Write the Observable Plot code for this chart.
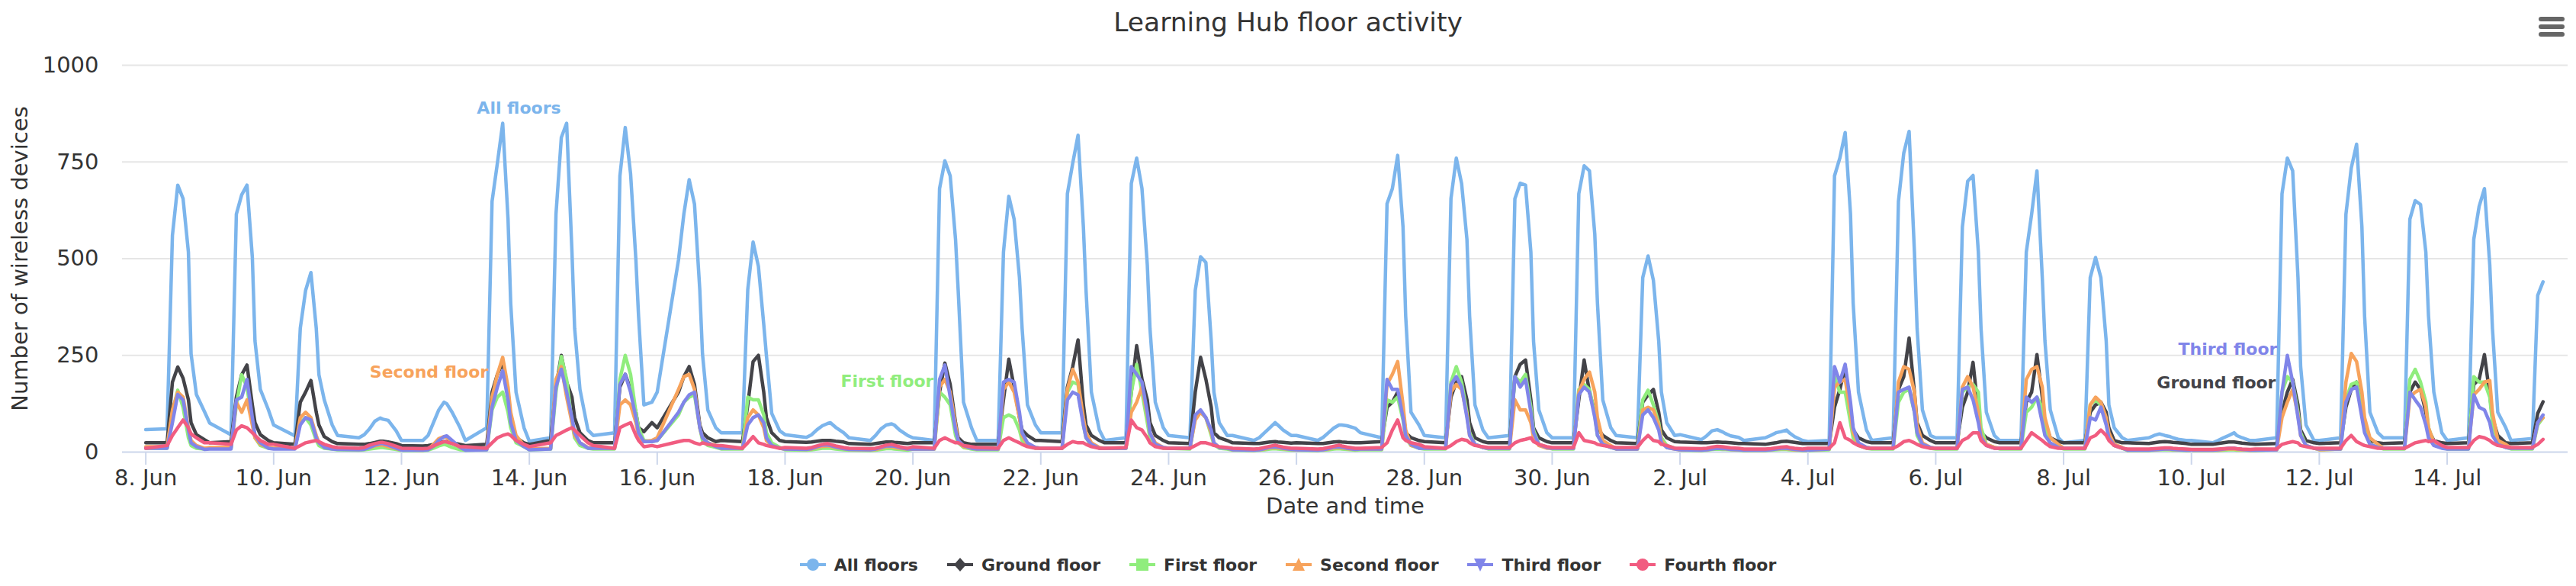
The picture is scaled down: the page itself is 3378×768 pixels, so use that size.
<!DOCTYPE html>
<html>
<head>
<meta charset="utf-8">
<script src="https://cdn.jsdelivr.net/npm/d3@7"></script>
<script src="https://cdn.jsdelivr.net/npm/@observablehq/plot@0.6"></script>
<style>
  html, body { margin: 0; padding: 0; background: #ffffff; }
  body { width: 3378px; height: 768px; overflow: hidden; font-family: "DejaVu Sans", sans-serif; position: relative; }
  #title { height: 58px; line-height: 58px; text-align: center; font-size: 34.5px; color: #333333; position: relative; }
  #menu { position: absolute; left: 3329px; top: 22px; width: 34px; }
  #menu div { height: 6px; border-radius: 3px; background: #666666; margin-bottom: 4px; }
  #legend { height: 56px; display: flex; justify-content: center; align-items: center; gap: 38px; }
  .item { display: flex; align-items: center; font-weight: bold; font-size: 22px; color: #333333; }
  .item svg { margin-right: 11px; }
</style>
</head>
<body>
<div id="title">Learning Hub floor activity<div id="menu"><div></div><div></div><div></div></div></div>
<div id="chart"></div>
<div id="legend"></div>
<script>
// ---- time grid: each day is sampled at these hours, starting 8 Jun ----
const firstDay = "2018-06-08";
const hoursOfDay = [0, 8, 10, 12, 14, 16, 17, 19, 22];

// ---- series values (one row per day: 0h, 8h, 10h, 12h, 14h, 16h, 17h, 19h, 22h) ----
const allFloors = [
  58, 60, 560, 690, 655, 517, 254, 149, 105,   // 8 Jun
  75, 45, 615, 665, 690, 504, 287, 162, 110,   // 9 Jun
  70, 42, 320, 418, 464, 320, 200, 135, 70,    // 10 Jun
  43, 37, 45, 60, 80, 88, 85, 82, 55,          // 11 Jun
  30, 30, 43, 76, 109, 129, 125, 103, 63,      // 12 Jun
  30, 63, 648, 747, 850, 602, 385, 155, 63,    // 13 Jun
  28, 37, 615, 813, 850, 517, 320, 162, 57,    // 14 Jun
  43, 50, 714, 839, 720, 497, 352, 122, 129,   // 15 Jun
  155, 497, 615, 704, 641, 418, 254, 109, 63,  // 16 Jun
  50, 50, 420, 543, 480, 330, 250, 100, 55,    // 17 Jun
  45, 38, 45, 58, 68, 74, 76, 64, 50,          // 18 Jun
  37, 30, 43, 60, 70, 73, 70, 57, 43,          // 19 Jun
  37, 30, 681, 753, 714, 550, 418, 129, 63,    // 20 Jun
  30, 30, 517, 661, 602, 451, 320, 122, 70,    // 21 Jun
  50, 50, 668, 747, 819, 582, 418, 155, 57,    // 22 Jun
  30, 37, 694, 760, 681, 484, 320, 129, 63,    // 23 Jun
  43, 37, 418, 505, 490, 287, 155, 76, 43,     // 24 Jun
  43, 30, 37, 50, 63, 76, 70, 57, 43,          // 25 Jun
  43, 30, 38, 50, 62, 70, 70, 68, 62,          // 26 Jun
  50, 37, 642, 681, 767, 582, 352, 103, 70,    // 27 Jun
  43, 37, 655, 760, 694, 550, 352, 122, 57,    // 28 Jun
  37, 43, 655, 695, 690, 517, 287, 109, 50,    // 29 Jun
  37, 37, 668, 740, 727, 563, 385, 135, 63,    // 30 Jun
  43, 37, 451, 507, 444, 287, 155, 76, 43,     // 1 Jul
  45, 32, 42, 55, 58, 52, 48, 42, 38,          // 2 Jul
  30, 37, 43, 50, 53, 57, 50, 40, 30,          // 3 Jul
  27, 30, 714, 760, 826, 615, 385, 155, 57,    // 4 Jul
  30, 37, 648, 773, 829, 517, 320, 109, 43,    // 5 Jul
  37, 37, 582, 700, 715, 517, 320, 103, 43,    // 6 Jul
  30, 30, 517, 615, 727, 451, 287, 109, 37,    // 7 Jul
  24, 30, 451, 503, 451, 287, 122, 63, 37,     // 8 Jul
  30, 37, 43, 47, 43, 40, 37, 33, 30,          // 9 Jul
  30, 24, 30, 37, 43, 50, 43, 37, 30,          // 10 Jul
  30, 37, 668, 760, 727, 451, 221, 70, 30,     // 11 Jul
  30, 37, 615, 734, 796, 582, 352, 103, 50,    // 12 Jul
  37, 37, 602, 650, 640, 517, 352, 155, 50,    // 13 Jul
  30, 37, 550, 635, 681, 484, 320, 103, 63,    // 14 Jul
  30, 35, 405, 440                             // 15 Jul
];
const groundFloor = [
  24, 24, 181, 220, 191, 135, 76, 45, 32,
  24, 27, 142, 200, 225, 122, 76, 45, 30,
  24, 20, 129, 155, 185, 103, 70, 40, 27,
  22, 20, 20, 22, 25, 28, 28, 26, 22,
  17, 16, 17, 20, 24, 27, 27, 24, 20,
  17, 20, 155, 201, 232, 155, 89, 37, 24,
  20, 30, 168, 250, 181, 142, 89, 50, 30,
  24, 24, 168, 201, 162, 103, 63, 53, 76,
  63, 155, 195, 221, 175, 70, 50, 37, 27,
  30, 27, 122, 234, 250, 155, 89, 50, 30,
  27, 25, 26, 28, 30, 30, 30, 28, 26,
  22, 20, 22, 24, 26, 26, 25, 24, 22,
  24, 24, 155, 230, 175, 76, 37, 24, 20,
  20, 20, 135, 240, 168, 89, 57, 43, 30,
  30, 27, 168, 221, 290, 122, 70, 43, 30,
  24, 24, 155, 275, 188, 135, 76, 43, 30,
  24, 22, 155, 245, 188, 116, 50, 37, 30,
  24, 22, 22, 24, 26, 27, 26, 25, 23,
  24, 22, 22, 24, 26, 27, 26, 25, 24,
  24, 27, 116, 129, 155, 103, 50, 37, 30,
  27, 24, 142, 181, 195, 135, 76, 37, 27,
  24, 24, 195, 227, 238, 135, 63, 37, 27,
  24, 24, 135, 238, 155, 103, 63, 43, 30,
  24, 22, 129, 148, 162, 103, 57, 37, 27,
  26, 24, 24, 25, 26, 25, 25, 24, 22,
  22, 20, 22, 24, 27, 28, 27, 25, 22,
  22, 22, 116, 162, 221, 103, 57, 37, 27,
  24, 24, 162, 195, 295, 155, 76, 43, 30,
  24, 24, 116, 155, 232, 103, 50, 37, 27,
  24, 24, 129, 155, 252, 142, 76, 37, 27,
  24, 24, 103, 122, 129, 103, 63, 30, 24,
  24, 22, 24, 26, 27, 26, 25, 24, 22,
  20, 20, 22, 24, 26, 26, 25, 23, 21,
  20, 22, 103, 155, 188, 122, 57, 30, 24,
  22, 24, 116, 162, 181, 129, 63, 30, 24,
  22, 24, 155, 181, 162, 103, 57, 30, 24,
  22, 24, 175, 188, 252, 148, 89, 43, 24,
  22, 24, 100, 130
];
const firstFloor = [
  10, 10, 103, 160, 115, 37, 17, 10, 8,
  10, 10, 122, 200, 168, 76, 37, 17, 10,
  10, 10, 76, 89, 70, 30, 17, 10, 8,
  6, 5, 6, 8, 10, 12, 12, 10, 7,
  4, 4, 5, 10, 16, 20, 18, 12, 6,
  5, 6, 109, 142, 155, 103, 63, 24, 14,
  6, 8, 155, 247, 188, 76, 37, 17, 10,
  8, 8, 188, 250, 201, 103, 63, 30, 27,
  30, 96, 129, 142, 148, 63, 30, 17, 12,
  8, 8, 142, 135, 135, 96, 50, 24, 12,
  6, 5, 6, 8, 10, 10, 10, 8, 6,
  5, 4, 5, 7, 9, 9, 8, 7, 5,
  8, 8, 155, 142, 122, 43, 24, 12, 8,
  6, 6, 89, 96, 89, 57, 30, 17, 10,
  10, 10, 155, 181, 175, 70, 37, 17, 10,
  10, 10, 155, 227, 155, 76, 37, 17, 10,
  10, 8, 89, 103, 89, 43, 20, 10, 8,
  5, 4, 5, 6, 8, 9, 8, 7, 5,
  5, 4, 5, 6, 8, 9, 8, 7, 5,
  6, 6, 135, 129, 142, 83, 37, 17, 10,
  8, 8, 181, 221, 181, 103, 50, 20, 12,
  8, 8, 195, 181, 201, 116, 57, 20, 12,
  8, 8, 162, 175, 162, 96, 43, 20, 12,
  8, 8, 135, 160, 122, 76, 37, 17, 10,
  5, 4, 5, 7, 8, 7, 7, 6, 5,
  4, 4, 5, 6, 7, 7, 6, 5, 4,
  4, 6, 195, 155, 155, 76, 37, 17, 10,
  8, 8, 129, 155, 162, 103, 43, 17, 10,
  8, 8, 155, 168, 175, 155, 63, 20, 12,
  8, 8, 103, 116, 142, 116, 63, 20, 12,
  8, 8, 122, 135, 122, 76, 37, 17, 10,
  4, 4, 5, 6, 6, 6, 5, 5, 4,
  4, 4, 4, 5, 6, 6, 5, 5, 4,
  4, 6, 155, 195, 181, 103, 50, 17, 10,
  6, 8, 135, 175, 181, 116, 57, 20, 12,
  8, 8, 188, 214, 181, 129, 63, 24, 12,
  8, 8, 195, 181, 181, 142, 76, 24, 12,
  8, 8, 70, 89
];
const secondFloor = [
  14, 14, 109, 155, 142, 63, 30, 17, 10,
  12, 12, 129, 103, 135, 70, 37, 20, 12,
  10, 10, 89, 103, 89, 43, 24, 14, 10,
  8, 7, 8, 12, 16, 18, 18, 14, 9,
  6, 5, 8, 20, 35, 40, 38, 25, 12,
  6, 8, 142, 201, 245, 168, 103, 43, 17,
  8, 10, 188, 221, 142, 76, 43, 24, 12,
  10, 10, 122, 135, 122, 76, 43, 27, 30,
  37, 162, 195, 201, 162, 63, 37, 24, 17,
  10, 10, 89, 109, 96, 63, 30, 17, 10,
  8, 7, 8, 12, 15, 16, 15, 12, 9,
  7, 6, 7, 10, 14, 14, 12, 10, 8,
  8, 8, 168, 188, 155, 70, 30, 14, 10,
  8, 8, 162, 181, 155, 89, 43, 20, 12,
  10, 10, 162, 214, 181, 89, 50, 24, 12,
  10, 10, 103, 129, 168, 96, 50, 24, 12,
  10, 10, 83, 103, 89, 50, 24, 12, 10,
  6, 5, 6, 8, 11, 12, 11, 9, 7,
  6, 5, 6, 8, 11, 12, 11, 9, 7,
  8, 8, 175, 201, 234, 122, 57, 17, 12,
  10, 10, 155, 175, 162, 96, 43, 20, 12,
  10, 10, 135, 109, 109, 76, 37, 17, 10,
  10, 10, 155, 188, 207, 155, 89, 30, 17,
  8, 8, 109, 116, 109, 70, 30, 12, 8,
  6, 5, 6, 9, 10, 9, 9, 7, 6,
  5, 5, 6, 8, 9, 9, 8, 6, 5,
  5, 8, 168, 181, 188, 103, 50, 20, 12,
  10, 10, 181, 221, 214, 155, 70, 24, 12,
  10, 10, 168, 195, 168, 103, 43, 20, 12,
  10, 10, 188, 214, 221, 168, 89, 37, 20,
  10, 10, 122, 142, 129, 89, 50, 20, 12,
  5, 5, 6, 7, 8, 7, 7, 6, 5,
  5, 5, 5, 7, 8, 8, 7, 6, 5,
  5, 6, 89, 129, 162, 96, 43, 17, 10,
  6, 8, 181, 255, 234, 155, 89, 37, 20,
  10, 10, 142, 155, 162, 116, 63, 24, 12,
  10, 10, 148, 162, 181, 185, 103, 30, 20,
  10, 10, 76, 89
];
const thirdFloor = [
  10, 10, 76, 149, 135, 57, 24, 14, 7,
  8, 8, 135, 142, 188, 89, 43, 24, 10,
  8, 8, 70, 89, 83, 37, 24, 12, 8,
  7, 6, 7, 12, 18, 22, 22, 18, 10,
  5, 5, 6, 15, 30, 40, 42, 30, 12,
  5, 6, 116, 168, 210, 135, 76, 30, 14,
  6, 8, 168, 214, 155, 89, 50, 24, 10,
  10, 10, 175, 201, 155, 89, 50, 27, 27,
  30, 103, 129, 148, 155, 63, 37, 24, 14,
  10, 10, 70, 89, 96, 76, 37, 17, 10,
  8, 7, 9, 14, 18, 18, 17, 13, 9,
  7, 6, 8, 12, 16, 16, 15, 12, 8,
  8, 8, 188, 225, 142, 57, 30, 17, 10,
  8, 8, 181, 188, 181, 103, 50, 24, 12,
  10, 10, 135, 155, 148, 70, 37, 20, 10,
  10, 10, 221, 201, 181, 103, 50, 20, 12,
  10, 10, 96, 109, 89, 57, 24, 12, 10,
  6, 5, 6, 9, 13, 14, 13, 10, 7,
  6, 5, 6, 9, 13, 14, 13, 10, 7,
  8, 8, 188, 162, 162, 89, 43, 20, 10,
  10, 10, 175, 195, 168, 89, 43, 20, 12,
  10, 10, 195, 168, 188, 103, 50, 20, 12,
  10, 10, 148, 168, 155, 89, 43, 20, 12,
  8, 8, 96, 109, 89, 57, 24, 12, 8,
  6, 5, 6, 8, 10, 9, 9, 7, 6,
  5, 5, 6, 8, 10, 10, 9, 7, 5,
  5, 8, 221, 181, 227, 129, 63, 24, 12,
  10, 10, 155, 162, 168, 103, 50, 20, 12,
  10, 10, 162, 168, 135, 76, 37, 17, 10,
  10, 10, 142, 129, 142, 76, 43, 24, 12,
  10, 10, 89, 83, 116, 70, 37, 17, 10,
  5, 5, 6, 7, 8, 8, 7, 6, 5,
  5, 5, 6, 8, 10, 10, 9, 7, 5,
  5, 6, 155, 250, 181, 89, 43, 17, 10,
  8, 8, 129, 162, 168, 89, 50, 20, 12,
  10, 10, 155, 135, 116, 70, 37, 17, 10,
  8, 8, 148, 116, 109, 76, 43, 20, 12,
  10, 10, 76, 96
];
const fourthFloor = [
  10, 17, 43, 63, 83, 63, 47, 37, 24,
  24, 20, 57, 68, 63, 50, 43, 30, 20,
  20, 10, 17, 24, 27, 30, 27, 20, 14,
  12, 10, 12, 18, 22, 25, 25, 22, 15,
  10, 9, 10, 16, 22, 27, 26, 22, 14,
  14, 10, 24, 37, 43, 47, 43, 30, 20,
  14, 24, 43, 50, 57, 63, 57, 43, 24,
  17, 10, 63, 70, 76, 43, 30, 14, 17,
  14, 27, 30, 30, 24, 20, 24, 20, 17,
  17, 10, 24, 40, 24, 20, 17, 14, 10,
  12, 10, 12, 16, 20, 22, 20, 16, 12,
  10, 9, 10, 14, 18, 20, 18, 14, 10,
  14, 10, 30, 37, 30, 24, 24, 17, 14,
  12, 10, 30, 37, 30, 24, 20, 14, 10,
  10, 10, 20, 27, 24, 24, 20, 14, 10,
  10, 12, 83, 63, 57, 37, 24, 14, 10,
  10, 10, 17, 24, 24, 20, 17, 14, 12,
  10, 8, 9, 12, 15, 18, 16, 13, 10,
  10, 8, 9, 12, 15, 18, 16, 13, 10,
  10, 12, 24, 57, 83, 37, 30, 24, 20,
  14, 10, 17, 27, 33, 30, 24, 17, 14,
  12, 12, 24, 30, 33, 37, 27, 20, 14,
  12, 12, 50, 30, 27, 24, 20, 17, 14,
  12, 12, 30, 43, 30, 27, 20, 17, 10,
  10, 9, 10, 13, 15, 14, 13, 11, 10,
  8, 8, 9, 11, 13, 14, 12, 10, 8,
  10, 10, 24, 76, 37, 30, 24, 17, 10,
  10, 10, 17, 27, 30, 24, 20, 14, 10,
  10, 10, 30, 37, 50, 50, 30, 17, 10,
  10, 10, 30, 50, 40, 30, 24, 14, 10,
  10, 10, 37, 43, 57, 43, 30, 17, 10,
  8, 8, 9, 10, 11, 11, 10, 9, 8,
  7, 7, 8, 9, 10, 10, 9, 8, 7,
  8, 8, 20, 24, 27, 24, 17, 14, 10,
  10, 10, 30, 43, 27, 20, 17, 14, 10,
  10, 10, 17, 24, 27, 30, 27, 30, 17,
  12, 12, 30, 40, 37, 30, 24, 17, 14,
  12, 12, 20, 33
];

// ---- names, colours, ticks, labels ----
const seriesNames = ["All floors", "Ground floor", "First floor", "Second floor", "Third floor", "Fourth floor"];
const seriesColors = ["#7cb5ec", "#434348", "#90ed7d", "#f7a35c", "#8085e9", "#f15c80"];
const seriesMarkers = ["circle", "diamond", "square", "triangle", "triangle-down", "circle"];
const xDomain = ["2018-06-07T15:13Z", "2018-07-15T21:22Z"];
const xTicks = ["2018-06-08", "2018-06-10", "2018-06-12", "2018-06-14", "2018-06-16", "2018-06-18", "2018-06-20",
  "2018-06-22", "2018-06-24", "2018-06-26", "2018-06-28", "2018-06-30", "2018-07-02", "2018-07-04",
  "2018-07-06", "2018-07-08", "2018-07-10", "2018-07-12", "2018-07-14"];
const xTickLabels = ["8. Jun", "10. Jun", "12. Jun", "14. Jun", "16. Jun", "18. Jun", "20. Jun",
  "22. Jun", "24. Jun", "26. Jun", "28. Jun", "30. Jun", "2. Jul", "4. Jul",
  "6. Jul", "8. Jul", "10. Jul", "12. Jul", "14. Jul"];
const yTicks = [0, 250, 500, 750, 1000];
const yTickLabels = ["0", "250", "500", "750", "1000"];
const yGrid = [250, 500, 750, 1000];
const labelNames = ["All floors", "Second floor", "First floor", "Third floor", "Ground floor"];
const labelTimes = ["2018-06-13T20:05Z", "2018-06-12T10:18Z", "2018-06-19T14:21Z", "2018-07-10T13:40Z", "2018-07-10T09:21Z"];
const labelValues = [888, 207, 183, 266, 178];
const labelColors = ["#7cb5ec", "#f7a35c", "#90ed7d", "#8085e9", "#434348"];

// ---- build tables ----
const t0 = Date.parse(firstDay + "T00:00Z");
function table(values) {
  return values.map((v, i) => ({
    t: new Date(t0 + (Math.floor(i / hoursOfDay.length) * 24 + hoursOfDay[i % hoursOfDay.length]) * 3600e3),
    v
  }));
}
const seriesValues = [allFloors, groundFloor, firstFloor, secondFloor, thirdFloor, fourthFloor];
const tickDates = xTicks.map(d => new Date(d + "T00:00Z"));
const annotations = labelNames.map((name, i) => ({name, t: new Date(labelTimes[i]), v: labelValues[i], color: labelColors[i]}));

const lineMarks = seriesValues.map((vals, k) =>
  Plot.line(table(vals), {x: "t", y: "v", stroke: seriesColors[k], strokeWidth: 4.5, strokeLinejoin: "round"})
);

const chart = Plot.plot({
  width: 3378,
  height: 654,
  marginTop: 27,
  marginBottom: 120,
  marginLeft: 160,
  marginRight: 11,
  style: {fontFamily: "'DejaVu Sans', sans-serif", fontSize: "29px", color: "#333333", background: "#ffffff"},
  x: {type: "utc", domain: xDomain.map(d => new Date(d))},
  y: {domain: [0, 1000]},
  marks: [
    Plot.gridY({ticks: yGrid, stroke: "#e6e6e6", strokeOpacity: 1, strokeWidth: 2}),
    Plot.ruleY([0], {stroke: "#ccd6eb", strokeWidth: 2}),
    ...lineMarks,
    Plot.text(annotations, {x: "t", y: "v", text: "name", fill: "color", fontWeight: "bold", fontSize: 22}),
    Plot.axisX({
      ticks: tickDates,
      tickFormat: d => xTickLabels[tickDates.findIndex(t => +t === +d)],
      tickSize: 17, tickPadding: 6, stroke: "#ccd6eb", strokeWidth: 2, fill: "#333333", label: null, fontSize: 29
    }),
    Plot.axisY({
      ticks: yTicks,
      tickFormat: d => yTickLabels[yTicks.indexOf(d)],
      tickSize: 0, tickPadding: 31, fill: "#333333", label: null, fontSize: 29
    }),
    Plot.text(["Date and time"], {frameAnchor: "bottom", dy: 80, text: d => d, fill: "#333333", fontSize: 29}),
    Plot.text(["Number of wireless devices"], {frameAnchor: "left", textAnchor: "middle", dx: -134, rotate: -90, text: d => d, fill: "#333333", fontSize: 29})
  ]
});
document.getElementById("chart").appendChild(chart);

// ---- legend ----
function markerPath(kind) {
  const c = 17, m = 10;
  switch (kind) {
    case "circle": return `<circle cx="${c}" cy="${m}" r="8"/>`;
    case "diamond": return `<path d="M${c} ${m - 9}L${c + 8} ${m}L${c} ${m + 9}L${c - 8} ${m}Z"/>`;
    case "square": return `<rect x="${c - 8}" y="${m - 8}" width="16" height="16"/>`;
    case "triangle": return `<path d="M${c} ${m - 9}L${c + 8} ${m + 8}L${c - 8} ${m + 8}Z"/>`;
    case "triangle-down": return `<path d="M${c - 8} ${m - 8}L${c + 8} ${m - 8}L${c} ${m + 9}Z"/>`;
  }
  return "";
}
const legend = document.getElementById("legend");
seriesNames.forEach((name, k) => {
  const item = document.createElement("div");
  item.className = "item";
  item.innerHTML = `<svg width="34" height="20" viewBox="0 0 34 20"><line x1="0" y1="10" x2="34" y2="10" stroke="${seriesColors[k]}" stroke-width="4"/><g fill="${seriesColors[k]}">${markerPath(seriesMarkers[k])}</g></svg><span>${name}</span>`;
  legend.appendChild(item);
});
</script>
</body>
</html>
